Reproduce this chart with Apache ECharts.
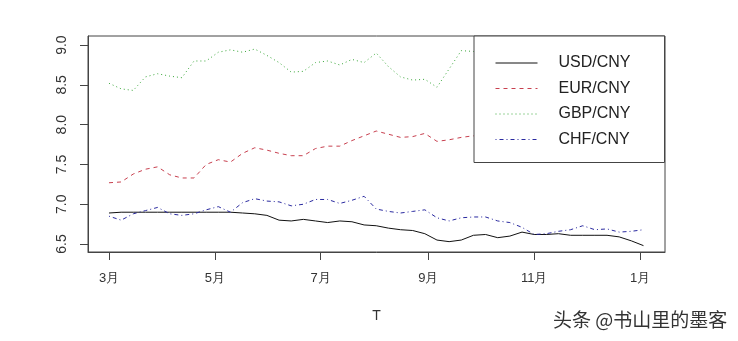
<!DOCTYPE html>
<html>
<head>
<meta charset="utf-8">
<script src="https://cdn.jsdelivr.net/npm/echarts@6/dist/echarts.min.js"></script>
<style>
html,body{margin:0;padding:0;background:#fff;}
#chart{width:738px;height:341px;}
</style>
</head>
<body>
<div id="chart"></div>
<script>
var dates = ["2017-03-01","2017-03-08","2017-03-15","2017-03-22","2017-03-29","2017-04-05","2017-04-12","2017-04-19","2017-04-26","2017-05-03","2017-05-10","2017-05-17","2017-05-24","2017-05-31","2017-06-07","2017-06-14","2017-06-21","2017-06-28","2017-07-05","2017-07-12","2017-07-19","2017-07-26","2017-08-02","2017-08-09","2017-08-16","2017-08-23","2017-08-30","2017-09-06","2017-09-13","2017-09-20","2017-09-27","2017-10-04","2017-10-11","2017-10-18","2017-10-25","2017-11-01","2017-11-08","2017-11-15","2017-11-22","2017-11-29","2017-12-06","2017-12-13","2017-12-20","2017-12-27","2018-01-03"];
var usd = [6.89,6.90,6.90,6.90,6.90,6.90,6.90,6.90,6.90,6.90,6.90,6.89,6.88,6.86,6.80,6.79,6.81,6.79,6.77,6.79,6.78,6.74,6.73,6.70,6.68,6.67,6.63,6.55,6.53,6.55,6.61,6.62,6.58,6.60,6.65,6.62,6.62,6.63,6.61,6.61,6.61,6.61,6.59,6.54,6.48];
var eur = [7.27,7.28,7.38,7.44,7.47,7.37,7.33,7.33,7.50,7.56,7.53,7.64,7.71,7.68,7.64,7.61,7.61,7.70,7.73,7.73,7.80,7.86,7.92,7.88,7.84,7.85,7.89,7.79,7.81,7.84,7.86,7.80,7.78,7.74,7.72,7.78,7.82,7.80,7.84,7.82,7.86,7.84,7.80,7.82,7.84];
var gbp = [8.52,8.45,8.43,8.60,8.64,8.61,8.59,8.80,8.80,8.91,8.94,8.91,8.95,8.87,8.78,8.66,8.67,8.78,8.80,8.75,8.82,8.78,8.90,8.73,8.60,8.56,8.57,8.47,8.70,8.93,8.92,8.85,8.80,8.72,8.75,8.78,8.80,8.76,8.78,8.75,8.78,8.82,8.80,8.78,8.82];
var chf = [6.85,6.80,6.88,6.92,6.96,6.88,6.86,6.88,6.93,6.97,6.90,7.02,7.07,7.04,7.03,6.98,7.00,7.06,7.06,7.01,7.05,7.10,6.94,6.91,6.89,6.91,6.93,6.83,6.79,6.83,6.84,6.84,6.79,6.77,6.71,6.62,6.63,6.66,6.68,6.73,6.68,6.69,6.65,6.66,6.68];
var seriesNames = ["USD/CNY","EUR/CNY","GBP/CNY","CHF/CNY"];
var yTicks = [6.5,7.0,7.5,8.0,8.5,9.0];
var xTickDates = ["2017-03-01","2017-05-01","2017-07-01","2017-09-01","2017-11-01","2018-01-01"];
var xTickLabels = ["3月","5月","7月","9月","11月","1月"];
var xAxisTitle = "T";
var watermark = "头条 @书山里的墨客";

var DAY = 86400000;
function ts(s){var p=s.split("-");return Date.UTC(+p[0],+p[1]-1,+p[2]);}
var origin = ts(dates[0]);
function dayOf(s){return Math.round((ts(s)-origin)/DAY);}
function pairs(arr){return dates.map(function(d,i){return [dayOf(d),arr[i]];});}
var tickDays = xTickDates.map(dayOf);

var colors = ["#111111","#c8404f","#3aa83a","#2a2aa0"];
var dashes = ["solid",[4,4],[1,3],[1,3,4,3]];
var vals = [usd,eur,gbp,chf];

var chart = echarts.init(document.getElementById('chart'));
var font = "Liberation Sans, Arial, sans-serif";
chart.setOption({
  animation:false,
  backgroundColor:'#ffffff',
  textStyle:{fontFamily:font},
  grid:{left:88,right:73,top:36,bottom:89,show:true,borderColor:'#444',borderWidth:1,backgroundColor:'transparent'},
  xAxis:{
    type:'value',min:-12.1,max:320.4,
    axisLine:{show:true,onZero:false,lineStyle:{color:'#444',width:1}},
    axisTick:{show:true,length:8,lineStyle:{color:'#444'},customValues:tickDays},
    axisLabel:{customValues:tickDays,margin:20,fontSize:13,color:'#333',fontFamily:font,
      formatter:function(v){var i=tickDays.indexOf(Math.round(v));return i<0?'':xTickLabels[i];}},
    splitLine:{show:false},
    name:xAxisTitle,nameLocation:'middle',nameGap:57,
    nameTextStyle:{fontSize:14,color:'#333',fontFamily:font}
  },
  yAxis:{
    type:'value',min:6.4,max:9.114,
    axisLine:{show:true,onZero:false,lineStyle:{color:'#444',width:1}},
    axisTick:{show:true,length:8,lineStyle:{color:'#444'},customValues:yTicks},
    axisLabel:{customValues:yTicks,rotate:90,margin:19,fontSize:14,color:'#333',fontFamily:font,
      formatter:function(v){return (+v).toFixed(1);}},
    splitLine:{show:false}
  },
  legend:{
    orient:'vertical',left:474,top:36,
    padding:[19,34,15,21],
    itemWidth:42,itemHeight:14,itemGap:9.5,
    backgroundColor:'#ffffff',borderColor:'#444',borderWidth:1,borderRadius:0,
    itemStyle:{opacity:0},
    lineStyle:{width:1},
    textStyle:{fontSize:16,color:'#222',fontFamily:font,padding:[0,0,0,16]},
    data:seriesNames.map(function(n){return {name:n};}),
    z:10
  },
  series:seriesNames.map(function(n,i){
    return {name:n,type:'line',data:pairs(vals[i]),showSymbol:false,symbol:'none',
      lineStyle:{color:colors[i],width:1,type:dashes[i]},itemStyle:{color:colors[i]},z:2};
  }),
  graphic:[{type:'text',left:553,top:310,style:{text:watermark,fontSize:19,fill:'#333',fontFamily:'Noto Sans CJK SC'}}]
});
</script>
</body>
</html>
